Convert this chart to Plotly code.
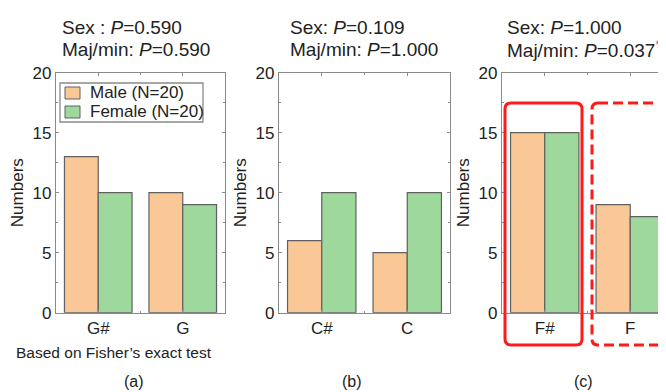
import plotly.graph_objects as go

# ---- data ----
cats_a = ["G#", "G"]
male_a = [13, 10]
female_a = [10, 9]

cats_b = ["C#", "C"]
male_b = [6, 5]
female_b = [10, 10]

cats_c = ["F#", "F"]
male_c = [15, 9]
female_c = [15, 8]

series_names = ["Male (N=20)", "Female (N=20)"]
titles_sex = ["Sex : <i>P</i>=0.590", "Sex: <i>P</i>=0.109", "Sex: <i>P</i>=1.000"]
titles_maj = ["Maj/min: <i>P</i>=0.590", "Maj/min: <i>P</i>=1.000",
              "Maj/min: <i>P</i>=0.037<span style='color:#e8302a'><sup>*</sup></span>"]
panel_labels = ["(a)", "(b)", "(c)"]
y_ticks = [0, 5, 10, 15, 20]

# page body has an 8px margin: figure is placed at (8, 8) in the window
OFF = 8
W, H = 658, 384
FONT = "Liberation Sans, Arial, sans-serif"
TXT = "#222222"
MALE_C = "#F9C896"
FEMALE_C = "#9ED89C"
EDGE = "#606060"
AX = "#8a8a8a"
colors = [MALE_C, FEMALE_C]


def px(x):
    return (x - OFF) / W


def py(y):
    return 1 - (y - OFF) / H


fig = go.Figure()

panels = [(cats_a, male_a, female_a), (cats_b, male_b, female_b), (cats_c, male_c, female_c)]
xdomains = [[px(56), px(225)], [px(279), px(450)], [px(502), 1.0]]
xranges = [[-0.5, 1.5], [-0.5, 1.5], [-0.5, -0.5 + 2 * (666 - 502) / 171]]
ydom = [py(312.7), py(72.7)]
title_x = [60, 288, 505]
label_x = [134, 352, 583]

for i, (cats, m, f) in enumerate(panels):
    sfx = "" if i == 0 else str(i + 1)
    xs = list(range(len(cats)))
    for vals, nm, col in zip([m, f], series_names, colors):
        fig.add_trace(go.Bar(x=xs, y=vals, name=nm, marker=dict(color=col, line=dict(color=EDGE, width=1.2)),
                             xaxis="x" + sfx, yaxis="y" + sfx, showlegend=False))
    last = (i == 2)
    fig.update_layout(**{
        "xaxis" + sfx: dict(domain=xdomains[i], range=xranges[i], tickmode="array", tickvals=xs, ticktext=cats,
                            showline=True, linecolor=AX, linewidth=1.3, mirror="ticks",
                            ticks="inside", ticklen=3, tickcolor=AX, tickwidth=1,
                            minor=dict(tickmode="array", tickvals=[0.5], ticks="inside", ticklen=2, tickcolor=AX),
                            showgrid=False, zeroline=False, anchor="y" + sfx, automargin=False,
                            tickfont=dict(size=17, family=FONT, color=TXT)),
        "yaxis" + sfx: dict(domain=ydom, range=[0, 20], tickmode="array", tickvals=y_ticks,
                            showline=True, linecolor=AX, linewidth=1.3, mirror=(False if last else "ticks"),
                            ticks="inside", ticklen=3, tickcolor=AX, tickwidth=1,
                            minor=dict(dtick=2.5, ticks="inside", ticklen=2, tickcolor=AX),
                            showgrid=False, zeroline=False, anchor="x" + sfx, automargin=False,
                            tickfont=dict(size=17, family=FONT, color=TXT),
                            title=dict(text="Numbers", standoff=4, font=dict(size=17, family=FONT, color=TXT))),
    })
    fig.add_annotation(text=titles_sex[i], xref="paper", yref="paper", x=px(title_x[i]), y=py(27.5),
                       xanchor="left", yanchor="middle", showarrow=False, font=dict(size=19, family=FONT, color=TXT))
    fig.add_annotation(text=titles_maj[i], xref="paper", yref="paper", x=px(title_x[i]), y=py(49.5),
                       xanchor="left", yanchor="middle", showarrow=False, font=dict(size=19, family=FONT, color=TXT))
    fig.add_annotation(text=panel_labels[i], xref="paper", yref="paper", x=px(label_x[i]), y=py(381),
                       xanchor="center", yanchor="middle", showarrow=False, font=dict(size=16, family=FONT, color=TXT))

fig.add_annotation(text="Based on Fisher\u2019s exact test", xref="paper", yref="paper", x=px(14), y=py(352),
                   xanchor="left", yanchor="middle", showarrow=False, font=dict(size=15.5, family=FONT, color=TXT))

# ---- legend (drawn compactly, as in the reference) ----
fig.add_shape(type="rect", xref="paper", yref="paper", x0=px(60), x1=px(203), y0=py(83), y1=py(122),
              line=dict(color=AX, width=1.3), fillcolor="white")
for k, (nm, col) in enumerate(zip(series_names, colors)):
    yc = 93 + 19 * k
    fig.add_shape(type="rect", xref="paper", yref="paper", x0=px(65), x1=px(80), y0=py(yc - 6), y1=py(yc + 6),
                  line=dict(color=EDGE, width=1), fillcolor=col)
    fig.add_annotation(text=nm, xref="paper", yref="paper", x=px(88), y=py(yc), xanchor="left", yanchor="middle",
                       showarrow=False, font=dict(size=17, family=FONT, color=TXT))


def rrect(x0, y0, x1, y1, r):
    rx, ry = r / W, r / H
    X0, X1, Y0, Y1 = px(x0), px(x1), py(y0), py(y1)
    return (f"M {X0+rx},{Y0} L {X1-rx},{Y0} Q {X1},{Y0} {X1},{Y0-ry} L {X1},{Y1+ry} Q {X1},{Y1} {X1-rx},{Y1} "
            f"L {X0+rx},{Y1} Q {X0},{Y1} {X0},{Y1+ry} L {X0},{Y0-ry} Q {X0},{Y0} {X0+rx},{Y0} Z")


fig.add_shape(type="path", path=rrect(505, 103, 582, 345, 6), xref="paper", yref="paper",
              line=dict(color="#ff1a1a", width=3))
fig.add_shape(type="path", path=rrect(592, 103, 720, 345, 6), xref="paper", yref="paper",
              line=dict(color="#ff1a1a", width=3, dash="10px,5px"))

fig.update_layout(
    width=W, height=H, margin=dict(l=0, r=0, t=0, b=0),
    paper_bgcolor="white", plot_bgcolor="white",
    barmode="group", bargap=0.2, bargroupgap=0,
    font=dict(family=FONT, color=TXT),
    showlegend=False,
)

fig.write_html("out.html")
